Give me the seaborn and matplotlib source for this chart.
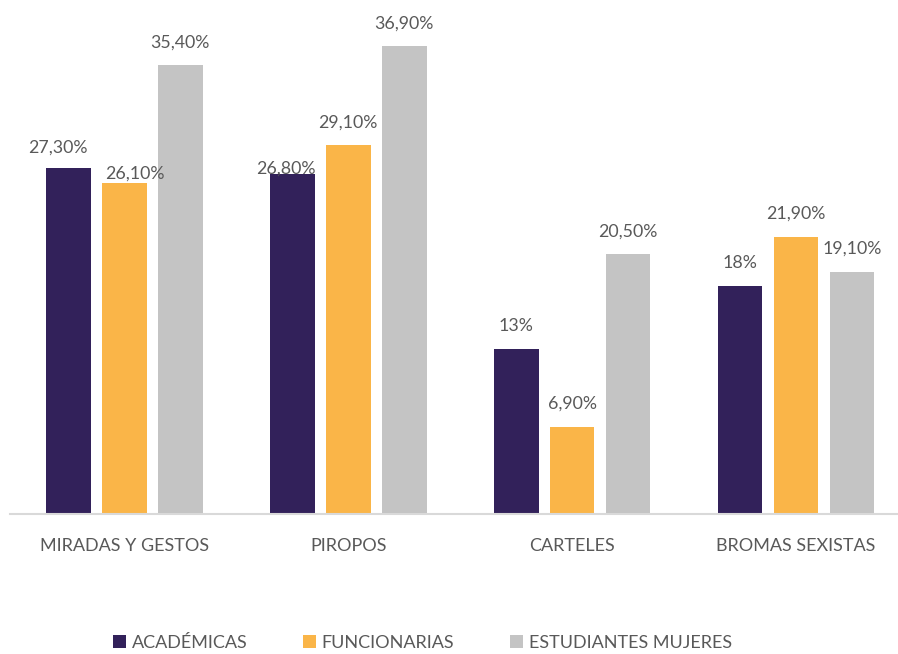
import pandas as pd
import matplotlib
matplotlib.use("Agg")
import matplotlib.pyplot as plt
import seaborn as sns

# =============================
#  Datos
# =============================
categorias = ["MIRADAS Y GESTOS", "PIROPOS", "CARTELES", "BROMAS SEXISTAS"]
grupos = ["ACADÉMICAS", "FUNCIONARIAS", "ESTUDIANTES MUJERES"]
academicas = [27.3, 26.8, 13.0, 18.0]
funcionarias = [26.1, 29.1, 6.9, 21.9]
estudiantes = [35.4, 36.9, 20.5, 19.1]

colores = ["#32215A", "#FAB548", "#C4C4C4"]
gris_texto = "#595959"

df = pd.DataFrame({
    "categoria": categorias * 3,
    "grupo": [g for g in grupos for _ in categorias],
    "valor": academicas + funcionarias + estudiantes,
})

# desplazamiento de las etiquetas (px) cuando Excel las movió
ajustes = {(0, 0): (-11, 20), (1, 0): (10, 10), (0, 1): (-6, 6)}


def formato(v):
    if float(v).is_integer():
        return f"{int(v)}%"
    return f"{v:.2f}".replace(".", ",") + "%"


# =============================
#  Figura
# =============================
sns.set_theme(style="white")
plt.rcParams["font.family"] = ["Lato", "DejaVu Sans"]

fig = plt.figure(figsize=(8.98, 6.54), dpi=100)
ax = fig.add_axes([10 / 898, 140 / 654, 888 / 898, 506.8 / 654])

sns.barplot(data=df, x="categoria", y="valor", hue="grupo", palette=colores,
            saturation=1, width=0.75, gap=0.2, linewidth=0, ax=ax, legend=True)

ax.set_ylim(0, 40)
ax.set_xlim(-0.511, 3.456)
ax.set_xlabel("")
ax.set_ylabel("")
ax.set_yticks([])
ax.tick_params(axis="x", length=0, pad=17, labelsize=13, labelcolor=gris_texto)
for lado in ["top", "right", "left"]:
    ax.spines[lado].set_visible(False)
ax.spines["bottom"].set_color("#D9D9D9")
ax.spines["bottom"].set_linewidth(1.5)

for s, cont in enumerate(ax.containers):
    for c, barra in enumerate(cont):
        v = barra.get_height()
        dx, dy = ajustes.get((s, c), (0, 23))
        ax.annotate(formato(v), (barra.get_x() + barra.get_width() / 2, v),
                    xytext=(dx, dy), textcoords="offset pixels",
                    ha="center", va="center", fontsize=12.8, color=gris_texto)

handles, labels = ax.get_legend_handles_labels()
ax.get_legend().remove()
fig.legend(handles, labels, loc="center", bbox_to_anchor=(422.5 / 898, 1 - 643 / 654),
           ncol=3, frameon=False, fontsize=13, labelcolor=gris_texto,
           handlelength=0.72, handleheight=0.72, handletextpad=0.3, columnspacing=3.1)

plt.savefig("out.png", dpi=100)
plt.close()
